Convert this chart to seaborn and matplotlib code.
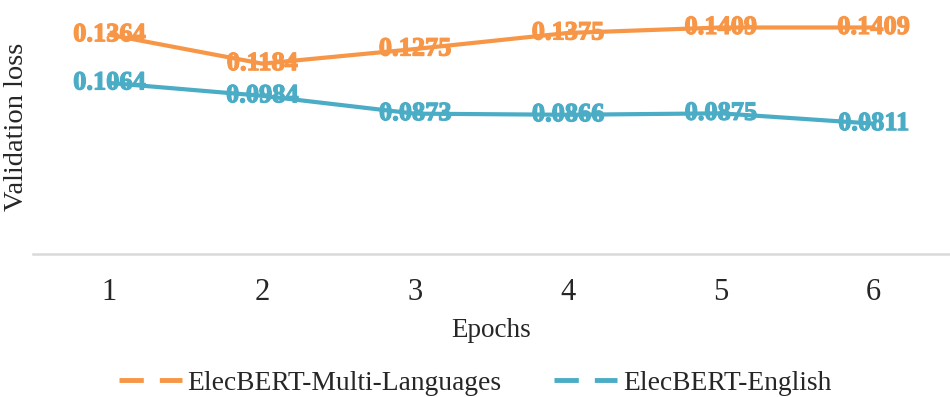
import pandas as pd
import matplotlib
matplotlib.use("Agg")
import matplotlib.pyplot as plt
import matplotlib.patheffects as pe
from matplotlib.lines import Line2D
import seaborn as sns

# data
epochs = [1, 2, 3, 4, 5, 6]
multi_lang = [0.1364, 0.1184, 0.1275, 0.1375, 0.1409, 0.1409]
english = [0.1064, 0.0984, 0.0873, 0.0866, 0.0875, 0.0811]
series_names = ["ElecBERT-Multi-Languages", "ElecBERT-English"]
colors = ["#F79646", "#4BACC6"]

df = pd.DataFrame({
    "Epochs": epochs * 2,
    "loss": multi_lang + english,
    "model": [series_names[0]] * len(epochs) + [series_names[1]] * len(epochs),
})

sns.set_style("white")
plt.rcParams["font.family"] = ["Liberation Serif", "DejaVu Serif"]

fig = plt.figure(figsize=(9.5, 3.97), dpi=100)
ax = fig.add_axes([33 / 950, 1 - 254 / 397, 1 - 33 / 950, 254 / 397])

palette = dict(zip(series_names, colors))
sns.lineplot(data=df, x="Epochs", y="loss", hue="model", palette=palette,
             linewidth=3, legend=False, ax=ax)

# value labels centred on each point, drawn over the line
for name, vals in zip(series_names, [multi_lang, english]):
    for x, v in zip(epochs, vals):
        ax.text(x, v, f"{v:.4f}", ha="center", va="center", fontsize=19,
                fontweight="bold", color=palette[name], zorder=5,
                path_effects=[pe.withStroke(linewidth=0.9, foreground=palette[name])])

ax.set_xlim(0.5, 6.5)
ax.set_ylim(0, 0.158)
ax.set_xticks(epochs)
ax.set_xticklabels([str(e) for e in epochs], fontsize=22, color="#262626")
ax.set_yticks([])
ax.tick_params(axis="x", length=0, pad=17)

for s in ["top", "right", "left"]:
    ax.spines[s].set_visible(False)
ax.spines["bottom"].set_color("#D9D9D9")
ax.spines["bottom"].set_linewidth(1.8)

ax.set_xlabel("Epochs", fontsize=19.5, color="#262626", labelpad=8)
ax.set_ylabel("Validation loss", fontsize=20.5, color="#262626", labelpad=3)

handles = [Line2D([], [], color=c, linewidth=3.5, dashes=(5, 3.3)) for c in colors]
fig.legend(handles, series_names, loc="center", bbox_to_anchor=(475 / 950, 1 - 383 / 397),
           ncol=2, frameon=False, fontsize=19.8, handlelength=2.3,
           handletextpad=0.2, columnspacing=1.9, labelcolor="#262626")

fig.savefig("out.png", dpi=100)
